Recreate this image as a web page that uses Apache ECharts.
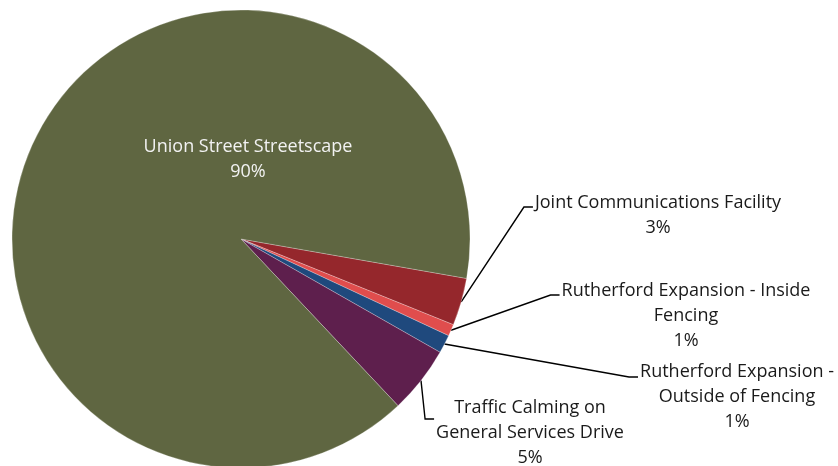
<!DOCTYPE html>
<html>
<head>
<meta charset="utf-8">
<script src="https://cdn.jsdelivr.net/npm/echarts@6/dist/echarts.min.js"></script>
<style>html,body{margin:0;padding:0;background:#fff;}#c{width:838px;height:466px;}</style>
</head>
<body>
<div id="c"></div>
<script>
// Data
const categories = [
  'Joint Communications Facility',
  'Rutherford Expansion - Inside Fencing',
  'Rutherford Expansion - Outside of Fencing',
  'Traffic Calming on General Services Drive',
  'Union Street Streetscape'
];
const values = [3.35, 0.83, 1.3, 4.74, 89.78];

// Styles / layout (presentation only)
const FONT_FAMILY = 'Open Sans';
const FONT_SIZE = 18;
const colors = ['#95272C', '#E04D4D', '#1F497D', '#5E1F4D', '#5F6641'];
const wrapWidths = [300, 262, 205, 205, 300];
// label centres and leader elbow y, per slice
const labelPos = [
  {x: 658, y: 215, ey: 207},
  {x: 686, y: 316, ey: 295},
  {x: 737, y: 397, ey: 377},
  {x: 530, y: 433, ey: 419},
  {x: 248, y: 159}
];

const ctx = document.createElement('canvas').getContext('2d');
ctx.font = FONT_SIZE + 'px "' + FONT_FAMILY + '"';
function wrap(text, maxW) {
  const words = text.split(' ');
  const lines = [];
  let cur = '';
  words.forEach(w => {
    const t = cur ? cur + ' ' + w : w;
    if (cur && ctx.measureText(t).width > maxW) { lines.push(cur); cur = w; }
    else cur = t;
  });
  if (cur) lines.push(cur);
  return lines.join('\n');
}

const chart = echarts.init(document.getElementById('c'), null, {renderer: 'canvas'});
const data = categories.map((n, i) => {
  const item = {name: n, value: values[i], itemStyle: {color: colors[i]}};
  if (i === 4) {
    item.label = {position: 'inside', color: '#F2F2F2'};
    item.labelLine = {show: false};
  }
  return item;
});

chart.setOption({
  animation: false,
  series: [{
    type: 'pie',
    center: [241, 239],
    radius: [0, 229],
    startAngle: -9.92,
    clockwise: true,
    percentPrecision: 0,
    avoidLabelOverlap: false,
    itemStyle: {borderColor: 'rgba(255,255,255,0.5)', borderWidth: 0.5},
    label: {
      show: true,
      position: 'outside',
      formatter: p => wrap(p.name, wrapWidths[p.dataIndex]) + '\n' + p.percent + '%',
      fontFamily: FONT_FAMILY,
      fontSize: FONT_SIZE,
      lineHeight: 25,
      color: '#1a1a1a',
      align: 'center'
    },
    labelLine: {show: true, lineStyle: {color: '#000', width: 1.4}, length: 20, length2: 10},
    labelLayout: function (p) {
      const lp = labelPos[p.dataIndex];
      const r = p.labelRect;
      const res = {x: lp.x, y: lp.y, align: 'center', verticalAlign: 'middle'};
      if (lp.ey !== undefined && p.labelLinePoints) {
        const s = p.labelLinePoints[0];
        const left = lp.x - r.width / 2;
        res.labelLinePoints = [[s[0], s[1]], [left - 11, lp.ey], [left - 2, lp.ey]];
      }
      return res;
    },
    data: data
  }]
});
</script>
</body>
</html>
